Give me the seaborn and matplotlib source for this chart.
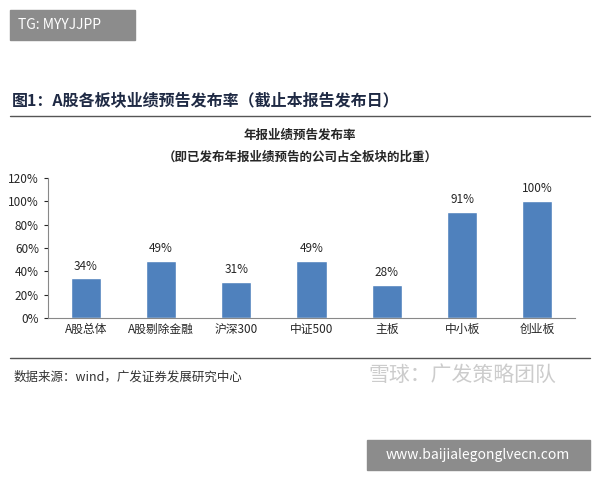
import matplotlib
matplotlib.use("Agg")
import matplotlib.pyplot as plt
import seaborn as sns
import pandas as pd

categories = ["A股总体", "A股剔除金融", "沪深300", "中证500", "主板", "中小板", "创业板"]
values = [34, 49, 31, 49, 28, 91, 100]
yticks = [0, 20, 40, 60, 80, 100, 120]

sns.set_style("white")
plt.rcParams['font.family'] = ['Noto Sans CJK SC', 'DejaVu Sans']

fig = plt.figure(figsize=(6, 4.8), dpi=100)
W, H = 600, 480
ax = fig.add_axes([48/W, 1-318/H, (575-48)/W, (318-178)/H])
df = pd.DataFrame({"cat": categories, "val": values})
sns.barplot(data=df, x="cat", y="val", color="#4F81BD", saturation=1, width=0.4, ax=ax)
ax.set_ylim(0, 120)
ax.set_yticks(yticks)
ax.set_yticklabels([f"{t}%" for t in yticks], fontsize=8.5)
ax.tick_params(axis='x', labelsize=8.5, length=0)
ax.tick_params(axis='y', length=3, left=True)
ax.set_xlabel(""); ax.set_ylabel("")
for s in ["top", "right"]:
    ax.spines[s].set_visible(False)
for s in ["left", "bottom"]:
    ax.spines[s].set_color("#888888")
for i, v in enumerate(values):
    ax.text(i, v + 5, f"{v}%", ha="center", va="bottom", fontsize=8.5)

# header elements
fig.patches.append(plt.Rectangle((10/W, 1-40/H), 125/W, 30/H, transform=fig.transFigure, color="#8c8c8c"))
fig.text(18/W, 1-25/H, "TG: MYYJJPP", color="white", fontsize=10, va="center")
fig.text(12/W, 1-101/H, "图1：A股各板块业绩预告发布率（截止本报告发布日）", fontsize=11.5,
         fontweight="bold", color="#1f2a44", va="center")
fig.add_artist(plt.Line2D([10/W, 590/W], [1-116/H, 1-116/H], color="#555555", lw=1))
fig.text(300/W, 1-135/H, "年报业绩预告发布率", fontsize=9, fontweight="bold", ha="center", va="center")
fig.text(300/W, 1-157/H, "（即已发布年报业绩预告的公司占全板块的比重）", fontsize=9, fontweight="bold", ha="center", va="center")
fig.add_artist(plt.Line2D([10/W, 590/W], [1-358/H, 1-358/H], color="#555555", lw=1))
fig.text(14/W, 1-377/H, "数据来源：wind，广发证券发展研究中心", fontsize=9, color="#333333", va="center")
fig.text(368/W, 1-375/H, "雪球：广发策略团队", fontsize=15, color="#cccccc", va="center")
fig.patches.append(plt.Rectangle((367/W, 1-470/H), 223/W, 30/H, transform=fig.transFigure, color="#8c8c8c"))
fig.text(478/W, 1-455/H, "www.baijialegonglvecn.com", color="white", fontsize=10, ha="center", va="center")

fig.savefig("out.png", dpi=100)
